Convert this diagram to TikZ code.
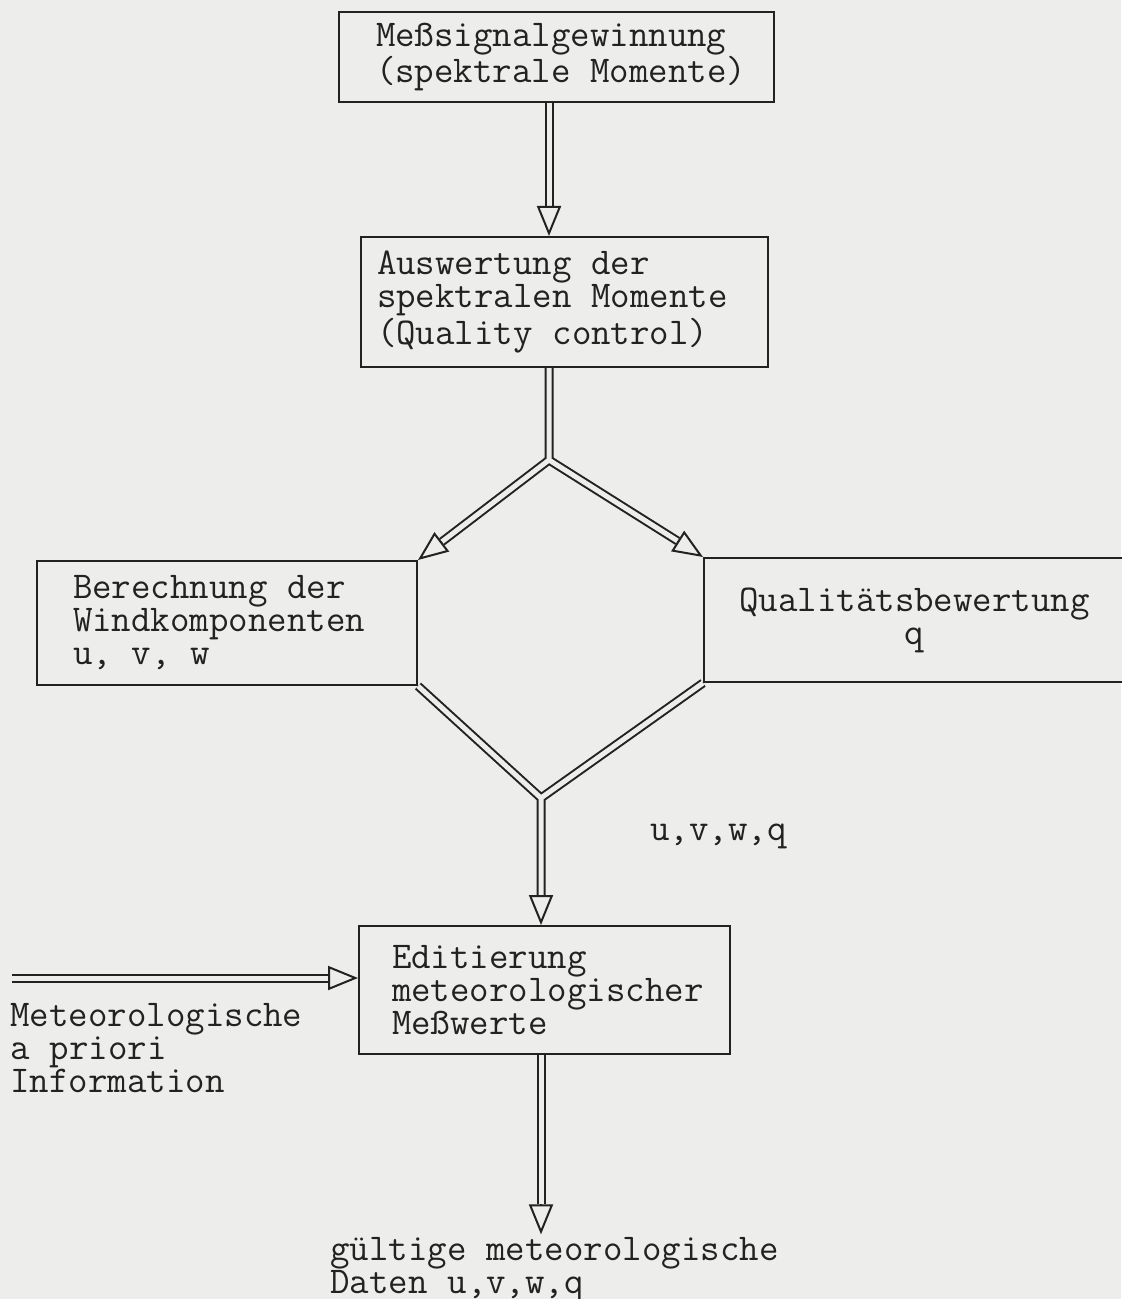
\documentclass[tikz,border=0pt]{standalone}
\usetikzlibrary{arrows.meta,positioning,calc}

\definecolor{paper}{RGB}{237,237,235}
\definecolor{ink}{RGB}{34,34,34}
\newcommand{\mono}{\ttfamily\fontsize{18.9}{16.5}\selectfont}
\newcommand{\hl}{15pt}

\begin{document}
\begin{tikzpicture}[
            x=0.5pt, y=-0.5pt,
            every node/.style={
                    execute at begin node={\spaceskip=0.525em\relax}
                },
            box/.style={
                    draw=ink,
                    fill=paper,
                    rectangle,
                    line width=1pt,
                    inner sep=0pt,
                    align=left,
                    text=ink,
                    font=\mono
                },
            plain/.style={
                    text=ink,
                    inner sep=0pt,
                    align=left,
                    font=\mono
                },
            indent/.style={
                    execute at begin node={\leftskip=#1\relax}
                },
            shaft/.style={
                    draw=ink,
                    line width=1pt,
                    double=paper,
                    double distance=2.5pt
                },
            head/.style={
                    -{Triangle[open, length=\hl, width=12pt]},
                    draw=ink,
                    line width=1pt
                }
            ]

            % Seite
            \path[use as bounding box, fill=paper] (0,0) rectangle (1121,1299);

            % 1. Meßsignalgewinnung (oben)
            \node[box, minimum width=217.5pt, minimum height=45pt, text width=200pt, indent=9.75pt] (mess) at (556.5,57) {
                Meßsignalgewinnung\\
                (spektrale Momente)
            };

            % 2. Auswertung der Momente
            \node[box, minimum width=203.5pt, minimum height=65pt, text width=187.5pt] (ausw) at (564.5,302) {
                Auswertung der\\
                spektralen Momente\\
                (Quality control)
            };

            % 3. Windkomponenten (links)
            \node[box, minimum width=190pt, minimum height=62pt, text width=154pt] (berech) at (227,623) {
                Berechnung der\\
                Windkomponenten\\
                u, v, w
            };

            % 4. Qualitaetsbewertung (rechts, ragt ueber den Rand)
            \node[box, align=center, minimum width=210.5pt, minimum height=62pt] (qual) at (914.5,620) {
                Qualitätsbewertung\\
                q
            };

            % 5. Editierung (unten)
            \node[box, minimum width=185.5pt, minimum height=64pt, text width=170pt, indent=8.75pt] (edit) at (544.5,990) {
                Editierung\\
                meteorologischer\\
                Meßwerte
            };

            % freie Beschriftungen
            \node[plain, anchor=west] (prior) at (10,1048) {Meteorologische\\a priori\\Information};
            \node[plain, anchor=west] (uvwq) at (650,836) {u,v,w,q};
            \node[plain, anchor=west, inner ysep=1.5pt] (daten) at (330,1270) {gültige meteorologische\\Daten u,v,w,q};

            % Verzweigung, Zusammenfuehrung, Quelle links
            \coordinate (split) at (549,460);
            \coordinate (merge) at (541,798);
            \coordinate (src) at (12,978);

            % --- DOPPELPFEILE ---

            % Meßsignal -> Auswertung
            \draw[shaft] (mess.south -| split) -- ($(ausw.north -| split)!\hl!(mess.south -| split)$);
            \draw[head] ($(ausw.north -| split)!\hl!(mess.south -| split)$) -- (ausw.north -| split);

            % Auswertung -> beide Zweige
            \draw[shaft] (ausw.south -| split) -- (split) -- ($(berech.north east)!\hl!(split)$)
            (ausw.south -| split) -- (split) -- ($(qual.north west)!\hl!(split)$);
            \draw[head] ($(berech.north east)!\hl!(split)$) -- (berech.north east);
            \draw[head] ($(qual.north west)!\hl!(split)$) -- (qual.north west);

            % beide Zweige -> Editierung
            \draw[shaft] (berech.south east) -- (merge) -- ($(edit.north -| merge)!\hl!(merge)$)
            (qual.south west) -- (merge) -- ($(edit.north -| merge)!\hl!(merge)$);
            \draw[head] ($(edit.north -| merge)!\hl!(merge)$) -- (edit.north -| merge);

            % a priori Information -> Editierung
            \draw[shaft] (src) -- ($(src -| edit.west)!\hl!(src)$);
            \draw[head] ($(src -| edit.west)!\hl!(src)$) -- (src -| edit.west);

            % Editierung -> gueltige Daten
            \draw[shaft] (edit.south -| merge) -- ($(daten.north -| merge)!\hl!(edit.south -| merge)$);
            \draw[head] ($(daten.north -| merge)!\hl!(edit.south -| merge)$) -- (daten.north -| merge);

        \end{tikzpicture}
\end{document}
